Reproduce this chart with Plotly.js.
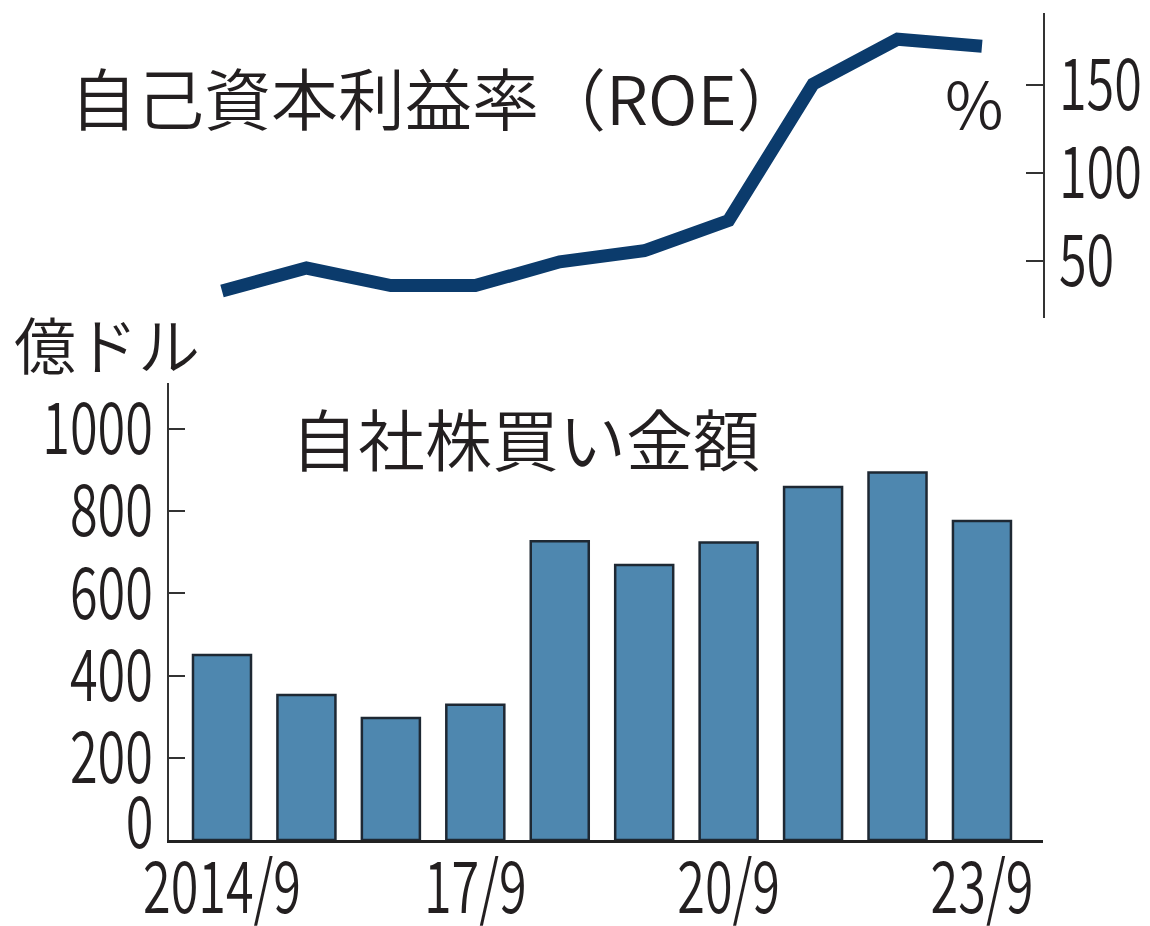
<!DOCTYPE html>
<html>
<head>
<meta charset="utf-8">
<script src="https://cdn.plot.ly/plotly-3.0.1.min.js"></script>
<style>html,body{margin:0;padding:0;background:#fff;}</style>
</head>
<body>
<div id="chart" style="width:1150px;height:926px;"></div>
<script>
// ---- data ----
const periods = ["2014/9","2015/9","2016/9","2017/9","2018/9","2019/9","2020/9","2021/9","2022/9","2023/9"];
const buybacks = [450, 353, 297, 329, 727, 669, 724, 859, 894, 776];   // 億ドル
const roe = [33, 46, 36, 36, 49.5, 55.8, 73, 150.5, 176, 172];          // %
const xTickVals = ["2014/9","2017/9","2020/9","2023/9"];
const xTickText = ["2014/9","17/9","20/9","23/9"];
const yTickVals = [200, 400, 600, 800, 1000];
const y2TickVals = [50, 100, 150];

const W = 1150, H = 926;
const px = v => v / W;
const py = v => 1 - v / H;
const FONT = '"Noto Sans CJK JP", "Noto Sans", sans-serif';
const TXT = '#231f20';
const NUM_SIZE = 72;
const CONDENSE = 0.70;   // narrow newspaper-style numerals
const WT = 350;

const traces = [
  {
    type: 'bar', x: periods, y: buybacks, xaxis: 'x', yaxis: 'y',
    marker: {color: '#4e87af', line: {color: '#1e2833', width: 2.5}},
    hoverinfo: 'skip'
  },
  {
    type: 'scatter', mode: 'lines', x: periods, y: roe, xaxis: 'x', yaxis: 'y2',
    line: {color: '#0b3b6c', width: 13},
    hoverinfo: 'skip'
  }
];

const numFont = {family: FONT, size: NUM_SIZE, color: TXT, weight: WT};

const layout = {
  width: W, height: H,
  margin: {l: 0, r: 0, t: 0, b: 0},
  paper_bgcolor: '#fff', plot_bgcolor: 'rgba(0,0,0,0)',
  showlegend: false,
  bargap: 0.313,
  font: {family: FONT, color: TXT, weight: WT},
  xaxis: {
    type: 'category', domain: [px(169.3), px(1042.5)], range: [-0.624, 9.717],
    anchor: 'y', showline: true, linecolor: '#222', linewidth: 2.5,
    showgrid: false, zeroline: false, ticks: '',
    tickvals: xTickVals, ticktext: xTickText,
    tickfont: numFont, ticklabelstandoff: -16
  },
  yaxis: {
    domain: [py(840), py(382.7)], range: [0, 1112.7], anchor: 'x',
    showline: true, linecolor: '#333', linewidth: 2,
    showgrid: false, zeroline: false,
    ticks: 'inside', ticklen: 16, tickwidth: 2, tickcolor: '#333',
    tickvals: yTickVals, tickfont: numFont
  },
  yaxis2: {
    domain: [py(318), py(13)], range: [17.6, 190.9], anchor: 'x', side: 'right',
    showline: true, linecolor: '#333', linewidth: 2,
    showgrid: false, zeroline: false,
    ticks: 'inside', ticklen: 17, tickwidth: 2, tickcolor: '#333',
    tickvals: y2TickVals, tickfont: numFont
  },
  annotations: [
    {text: '自己資本利益率（ROE）', xref: 'paper', yref: 'paper', x: px(68), y: py(96),
     xanchor: 'left', yanchor: 'middle', showarrow: false, font: {family: FONT, size: 67, color: TXT, weight: WT}},
    {text: '自社株買い金額', xref: 'paper', yref: 'paper', x: px(289), y: py(437),
     xanchor: 'left', yanchor: 'middle', showarrow: false, font: {family: FONT, size: 67, color: TXT, weight: WT}},
    {text: '億ドル', xref: 'paper', yref: 'paper', x: px(12), y: py(343),
     xanchor: 'left', yanchor: 'middle', showarrow: false, font: {family: FONT, size: 62, color: TXT, weight: WT}},
    {text: '%', xref: 'paper', yref: 'paper', x: px(1006), y: py(101),
     xanchor: 'right', yanchor: 'middle', showarrow: false, font: {family: FONT, size: 64, color: TXT, weight: WT}},
    {text: '0', xref: 'paper', yref: 'y', x: px(156), y: 0, yshift: 24,
     xanchor: 'right', yanchor: 'middle', showarrow: false, font: numFont}
  ]
};

// horizontally condense numeric labels around their anchor edge
function condense(el, s, mode) {
  const b = el.getBBox();
  let ax;
  if (mode === 'start') ax = b.x;
  else if (mode === 'end') ax = b.x + b.width;
  else ax = b.x + b.width / 2;
  const t = el.getAttribute('transform') || '';
  el.setAttribute('transform', `${t} translate(${ax},0) scale(${s},1) translate(${-ax},0)`);
}

Plotly.newPlot('chart', traces, layout, {displayModeBar: false, staticPlot: true}).then(gd => {
  gd.querySelectorAll('.xtick text').forEach(el => condense(el, CONDENSE, 'middle'));
  gd.querySelectorAll('.ytick text').forEach(el => condense(el, CONDENSE, 'end'));
  gd.querySelectorAll('.y2tick text').forEach(el => condense(el, CONDENSE, 'start'));
  gd.querySelectorAll('.annotation-text').forEach(el => {
    if (el.textContent.trim() === '0') condense(el, CONDENSE, 'end');
  });
});
</script>
</body>
</html>
